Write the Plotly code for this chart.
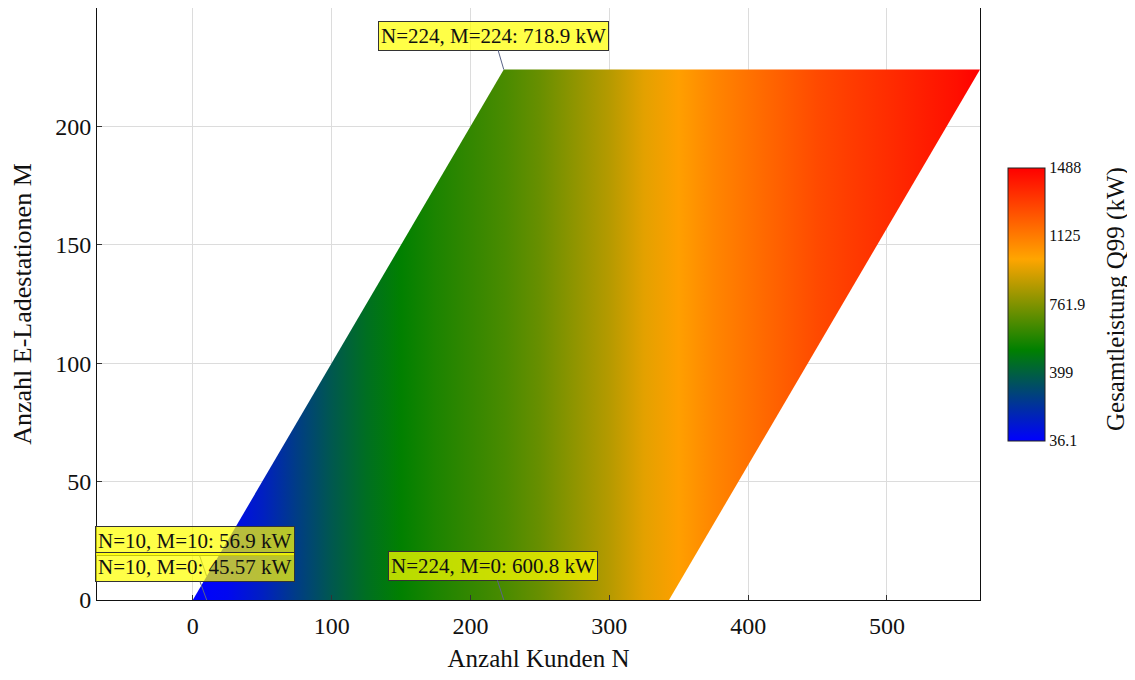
import plotly.graph_objects as go
from plotly.colors import sample_colorscale

# ---- data ----
N_grid = [0, 25, 50, 75, 100, 125, 150, 175, 200, 225, 250, 275, 300, 325,
          350, 375, 400, 425, 450, 475, 500, 525, 550, 567]
Q99_profile = [36, 65, 152, 268, 370, 457, 522, 573, 617, 660, 718, 791, 864, 951,
               1023, 1096, 1154, 1212, 1270, 1314, 1357, 1401, 1444, 1488]
M_range = [0, 224]
N_minus_M_span = 343

ann_N = [224, 224, 10, 10]
ann_M = [224, 0, 10, 0]
ann_Q = [718.9, 600.8, 56.9, 45.57]

cb_vals = [36.1, 399, 761.9, 1125, 1488]
cb_text = ["36.1", "399", "761.9", "1125", "1488"]

x_ticks = [0, 100, 200, 300, 400, 500]
y_ticks = [0, 50, 100, 150, 200]

# ---- styling ----
FONT = "Liberation Serif"
cs = [[0.0, "rgb(0,0,255)"], [1 / 3, "rgb(0,128,0)"],
      [2 / 3, "rgb(255,165,0)"], [1.0, "rgb(255,0,0)"]]
zmin, zmax = cb_vals[0], cb_vals[-1]

fig = go.Figure()

n0, n1 = N_grid[0], N_grid[-1]
fr = [min(1.0, max(0.0, (v - zmin) / (zmax - zmin))) for v in Q99_profile]
cols = sample_colorscale(cs, fr)
grad = [[(n - n0) / (n1 - n0), c] for n, c in zip(N_grid, cols)]
lo, hi = M_range
fig.add_trace(go.Scatter(
    x=[lo, lo + N_minus_M_span, hi + N_minus_M_span, hi, lo],
    y=[lo, lo, hi, hi, lo],
    fill="toself",
    fillgradient=dict(type="horizontal", colorscale=grad, start=n0, stop=n1),
    mode="lines", line=dict(width=0),
    hoverinfo="skip", showlegend=False,
))

# colour bar carrier (annotated points, invisible markers)
fig.add_trace(go.Scatter(
    x=ann_N, y=ann_M, mode="markers", showlegend=False, hoverinfo="skip",
    marker=dict(size=1, opacity=0, color=ann_Q, colorscale=cs, cmin=zmin, cmax=zmax,
                showscale=True,
                colorbar=dict(
                    thickness=37, len=273, lenmode="pixels",
                    x=1.0317, xanchor="left", xpad=0,
                    y=0.5, yanchor="middle", ypad=0,
                    outlinecolor="#222", outlinewidth=1,
                    tickvals=cb_vals, ticktext=cb_text, ticks="",
                    tickfont=dict(family=FONT, size=16, color="#111"),
                )),
))

# colour bar title
fig.add_annotation(
    xref="paper", yref="paper", x=1.154, y=0.5084,
    text="Gesamtleistung Q99 (kW)", textangle=-90, showarrow=False,
    xanchor="center", yanchor="middle",
    font=dict(family=FONT, size=25, color="#111"),
)

offsets = [(-10, -34), (-11, -34), (-12, -35), (-12, -33)]
for n, m, q, (ax, ay) in zip(ann_N, ann_M, ann_Q, offsets):
    fig.add_annotation(
        x=n, y=m, text=f"N={n}, M={m}: {q} kW",
        showarrow=True, arrowhead=0, arrowwidth=1, arrowcolor="#5a6488",
        ax=ax, ay=ay, xanchor="center", yanchor="middle",
        bgcolor="rgba(255,255,0,0.72)", bordercolor="#333", borderwidth=1, borderpad=2,
        font=dict(family=FONT, size=21, color="#111"),
    )

axis_common = dict(
    showgrid=True, gridcolor="#dcdcdc", gridwidth=1,
    showline=True, linecolor="#111", linewidth=1, mirror=True,
    ticks="inside", ticklen=5, tickcolor="#333",
    zeroline=False,
    tickfont=dict(family=FONT, size=24, color="#111"),
)

fig.update_layout(
    width=1127, height=664,
    margin=dict(l=89, r=155, t=0, b=72),
    paper_bgcolor="white", plot_bgcolor="white",
    font=dict(family=FONT, color="#111"),
    xaxis=dict(range=[-69, 567], tickvals=x_ticks, ticklabelstandoff=4,
               title=dict(text="Anzahl Kunden N", font=dict(family=FONT, size=25), standoff=15),
               **axis_common),
    yaxis=dict(range=[0, 250], tickvals=y_ticks,
               title=dict(text="Anzahl E-Ladestationen M", font=dict(family=FONT, size=26), standoff=18),
               **axis_common),
)

fig.write_html("out.html")
